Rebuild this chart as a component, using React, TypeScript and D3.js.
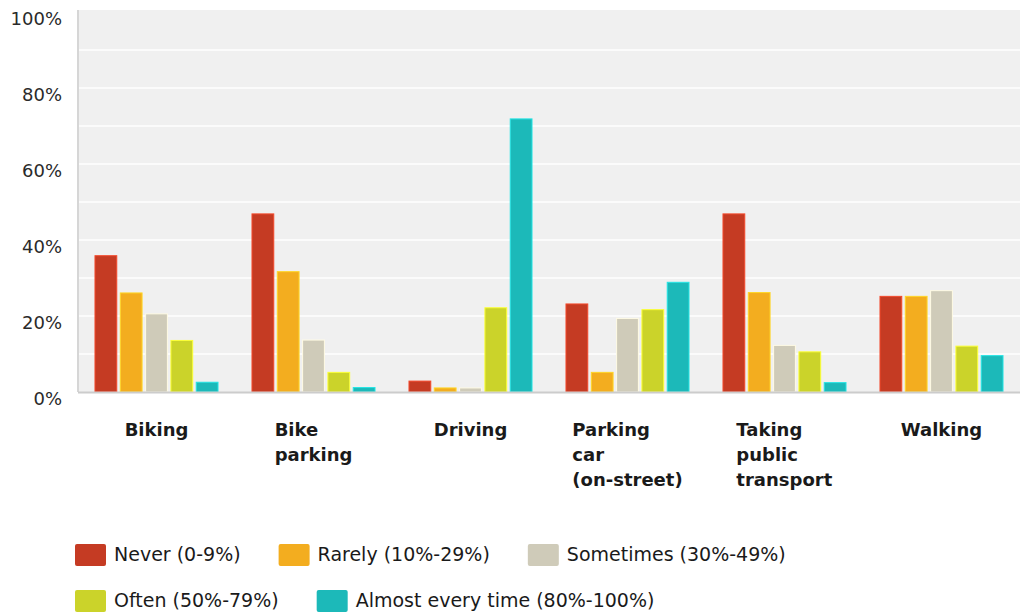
import * as d3 from "d3";
import {useEffect, useRef} from "react";

const categories = ["Biking", "Bike parking", "Driving", "Parking car (on-street)", "Taking public transport", "Walking"];
const categoryLines = [["Biking"], ["Bike", "parking"], ["Driving"], ["Parking", "car", "(on-street)"], ["Taking", "public", "transport"], ["Walking"]];

const seriesNames = ["Never (0-9%)", "Rarely (10%-29%)", "Sometimes (30%-49%)", "Often (50%-79%)", "Almost every time (80%-100%)"];
const seriesColors = ["#c53b23", "#f3ad1f", "#cfcbb9", "#cbd32a", "#1cb9b9"];

const never = [36, 47, 3, 23.3, 47, 25.3];
const rarely = [26.2, 31.8, 1.2, 5.3, 26.3, 25.3];
const sometimes = [20.7, 13.8, 1.2, 19.5, 12.4, 26.8];
const often = [13.7, 5.3, 22.3, 21.8, 10.7, 12.2];
const almost = [2.7, 1.3, 72, 29, 2.6, 9.7];
const seriesValues = [never, rarely, sometimes, often, almost];

const yTicks = [0, 20, 40, 60, 80, 100];
const yGrid = [10, 20, 30, 40, 50, 60, 70, 80, 90];

const W = 1020, H = 613;

export default function App() {
    const svgRef = useRef<SVGSVGElement>(null);

    useEffect(() => {
        document.body.style.margin = "0";
        const svg = d3.select(svgRef.current).html("");
        const margin = {top: 12, right: 0, bottom: 221, left: 78};
        const font = "'DejaVu Sans', Verdana, sans-serif";

        const x0 = d3.scaleBand().domain(categories).range([margin.left, W - margin.right]).paddingInner(0.21).paddingOuter(0.105);
        const x1 = d3.scaleBand().domain(seriesNames).range([0, x0.bandwidth()]).paddingInner(0.1);
        const y = d3.scaleLinear().domain([0, 100]).range([H - margin.bottom, margin.top]);

        svg.append("rect")
            .attr("x", margin.left).attr("y", margin.top - 2)
            .attr("width", W - margin.left).attr("height", y(0) - margin.top + 2)
            .attr("fill", "#f0f0f0");

        svg.append("g").selectAll("line").data(yGrid).join("line")
            .attr("x1", margin.left).attr("x2", W)
            .attr("y1", d => y(d)).attr("y2", d => y(d))
            .attr("stroke", "#ffffff").attr("stroke-width", 1.5);

        svg.append("line")
            .attr("x1", margin.left).attr("x2", margin.left)
            .attr("y1", margin.top - 2).attr("y2", y(0))
            .attr("stroke", "#d6d6d6").attr("stroke-width", 2);

        svg.append("g").selectAll("text").data(yTicks).join("text")
            .attr("x", 62).attr("y", d => y(d) + 13)
            .attr("text-anchor", "end")
            .attr("font-family", font).attr("font-size", 18).attr("fill", "#2a2a2a")
            .text(d => `${d}%`);

        const groups = svg.append("g").selectAll("g").data(categories).join("g")
            .attr("transform", d => `translate(${x0(d)},0)`);

        groups.selectAll("rect")
            .data((_, i) => seriesValues.map((vals, s) => ({s, v: vals[i]})))
            .join("rect")
            .attr("x", d => x1(seriesNames[d.s])! + 0.5)
            .attr("y", d => y(d.v) + 0.5)
            .attr("width", x1.bandwidth() - 1)
            .attr("height", d => y(0) - y(d.v) - 0.5)
            .attr("fill", d => seriesColors[d.s])
            .attr("stroke", d => d3.color(seriesColors[d.s])!.brighter(0.6).formatHex())
            .attr("stroke-width", 1);

        svg.append("line")
            .attr("x1", margin.left).attr("x2", W)
            .attr("y1", y(0) + 0.5).attr("y2", y(0) + 0.5)
            .attr("stroke", "#cccccc").attr("stroke-width", 2);

        // category labels: block centered, lines left-aligned
        categories.forEach((c, i) => {
            const t = svg.append("text")
                .attr("font-family", font).attr("font-size", 18).attr("font-weight", "bold").attr("fill", "#1a1a1a");
            categoryLines[i].forEach((line, j) => {
                t.append("tspan").attr("x", 0).attr("y", 436 + j * 25).text(line);
            });
            const w = (t.node() as SVGTextElement).getBBox().width;
            const cx = x0(c)! + x0.bandwidth() / 2;
            t.attr("transform", `translate(${cx - w / 2},0)`);
        });

        // legend, flowing with wrap
        const legend = svg.append("g");
        let lx = 75, ly = 544;
        seriesNames.forEach((name, i) => {
            const g = legend.append("g");
            g.append("rect").attr("width", 31).attr("height", 22).attr("rx", 2)
                .attr("fill", seriesColors[i]);
            const t = g.append("text").attr("x", 39).attr("y", 17)
                .attr("font-family", font).attr("font-size", 19).attr("fill", "#1a1a1a").text(name);
            const w = 39 + (t.node() as SVGTextElement).getComputedTextLength();
            if (lx + w > 960) {
                lx = 75;
                ly += 46;
            }
            g.attr("transform", `translate(${lx},${ly})`);
            lx += w + 38;
        });
    }, []);

    return <svg ref={svgRef} width={W} height={H} style={{display: "block", background: "#fff"}}/>;
}
